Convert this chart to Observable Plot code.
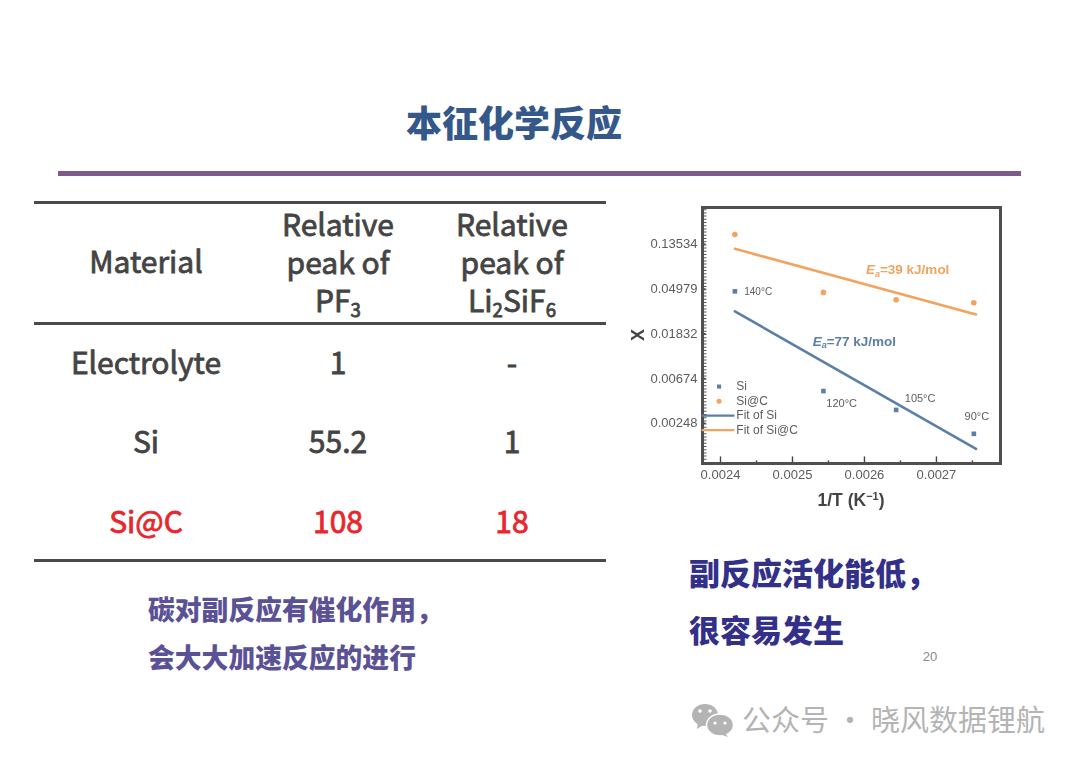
<!DOCTYPE html>
<html><head><meta charset="utf-8">
<script src="https://cdn.jsdelivr.net/npm/d3@7"></script>
<script src="https://cdn.jsdelivr.net/npm/@observablehq/plot@0.6"></script>
<style>
html,body{margin:0;padding:0;background:#fff;width:1080px;height:763px;overflow:hidden}
body{position:relative;font-family:"Noto Sans CJK SC","Noto Sans",sans-serif}
.t{position:absolute;white-space:nowrap;line-height:1}
.c{transform:translate(-50%,-50%)}
.rule{position:absolute}
sub{font-size:.62em;line-height:0;vertical-align:-.28em}
#chart{position:absolute;left:620px;top:190px;filter:blur(.35px)}
#wx{position:absolute;left:690px;top:700px}
</style></head><body>
<div id="slide"></div><div id="chart"></div>
<svg id="wx" width="46" height="38" viewBox="0 0 46 38">
<ellipse cx="15" cy="15" rx="13" ry="11" fill="#b4b4b4"/><path d="M8 22 L7 29 L15 24Z" fill="#b4b4b4"/>
<ellipse cx="30" cy="25" rx="13.5" ry="11" fill="#b4b4b4" stroke="#fff" stroke-width="1.5"/><path d="M35 33 L38 37 L29 34Z" fill="#b4b4b4"/>
<circle cx="10" cy="11" r="1.8" fill="#fff"/><circle cx="20" cy="11" r="1.8" fill="#fff"/><circle cx="25" cy="23" r="1.6" fill="#fff"/><circle cx="35" cy="23" r="1.6" fill="#fff"/>
</svg>
<script>
const xTicks=[0.0024,0.0025,0.0026,0.0027];
const xMinor=[0.00245,0.00255,0.00265,0.00275];
const yTicks=[0.13534,0.04979,0.01832,0.00674,0.00248];
const invT=[0.00242,0.002543,0.002644,0.002752];
const siX=[0.0472,0.00509,0.00334,0.00196];
const sicX=[0.168,0.0461,0.0391,0.0366];
const fitT=[0.00242,0.002755];
const fitSi=[0.0302,0.0014];
const fitSiC=[0.122,0.0282];
const tempLabels=[["140°C",0.002433,0.0466],["120°C",0.002547,0.00388],["105°C",0.002656,0.00428],["90°C",0.002739,0.00291]];
const blue="#5b7fa6",orange="#f2a35e",grey="#5c5c5c";
const sp=(a,b)=>a.map((v,i)=>({x:v,y:b[i]}));
const sans="Liberation Sans,Arial,sans-serif";
const xDom=[0.002375,0.002789],yDom=[0.00101,0.307];
const legendLineX=[0.002375,0.002418];
const legend=[["Si",0.00563],["Si@C",0.00405],["Fit of Si",0.00294],["Fit of Si@C",0.00213]];
const eaLabels=[["39",0.00266,0.0765,orange],["77",0.002586,0.01544,blue]];
const chart=Plot.plot({
  width:400,height:320,marginLeft:82,marginRight:20,marginTop:17,marginBottom:47,
  style:{background:"transparent",fontFamily:sans},
  x:{domain:xDom,axis:null},
  y:{type:"log",domain:yDom,axis:null},
  marks:[
    Plot.ruleX([xDom[0]],{y1:yDom[0],y2:yDom[1],dx:2.5,stroke:"#555",strokeWidth:3,strokeDasharray:"1,2.2"}),
    Plot.ruleX(xTicks,{y1:yDom[0],y2:0.00117,stroke:"#444",strokeWidth:1.4}),
    Plot.ruleX(xMinor,{y1:yDom[0],y2:0.00107,stroke:"#444",strokeWidth:1.4}),
    Plot.ruleY(yTicks,{x1:xDom[0],x2:0.00238,stroke:"#444",strokeWidth:1.4}),
    Plot.frame({stroke:"#4f4f4f",strokeWidth:3}),
    Plot.text(xTicks,{x:d=>d,frameAnchor:"bottom",dy:15,text:d=>d.toFixed(4),fontSize:13,fill:grey}),
    Plot.text(yTicks,{y:d=>d,frameAnchor:"left",dx:-5,textAnchor:"end",text:d=>d.toFixed(5),fontSize:13,fill:grey}),
    Plot.line(sp(fitT,fitSi),{x:"x",y:"y",stroke:blue,strokeWidth:2.6}),
    Plot.line(sp(fitT,fitSiC),{x:"x",y:"y",stroke:orange,strokeWidth:2.6}),
    Plot.dot(sp(invT,siX),{x:"x",y:"y",symbol:"square",r:2.6,fill:blue}),
    Plot.dot(sp(invT,sicX),{x:"x",y:"y",r:2.8,fill:orange}),
    Plot.text(tempLabels,{x:d=>d[1],y:d=>d[2],text:d=>d[0],fontSize:d=>d[0]=="140°C"?10:11,fill:grey,textAnchor:"start"}),
    Plot.dot([legend[0]],{x:()=>0.002398,y:d=>d[1],symbol:"square",r:2.3,fill:blue}),
    Plot.dot([legend[1]],{x:()=>0.002398,y:d=>d[1],r:2.5,fill:orange}),
    Plot.line(legendLineX.map(x=>({x,y:legend[2][1]})),{x:"x",y:"y",stroke:blue,strokeWidth:2.4}),
    Plot.line(legendLineX.map(x=>({x,y:legend[3][1]})),{x:"x",y:"y",stroke:orange,strokeWidth:2.4}),
    Plot.text(legend,{x:()=>0.002422,y:d=>d[1],text:d=>d[0],fontSize:12,fill:grey,textAnchor:"start"}),
    Plot.text(eaLabels,{x:d=>d[1],y:d=>d[2],text:d=>"Ea="+d[0]+" kJ/mol",fontSize:13.5,fontWeight:"bold",fill:d=>d[3]})
  ]
});
document.getElementById("chart").append(chart);
const s=d3.select(chart);
s.selectAll("text").filter(function(){return /^Ea=/.test(this.textContent)}).each(function(){
  const t=d3.select(this),rest=this.textContent.slice(2);
  t.text("");
  t.append("tspan").attr("font-style","italic").text("E");
  t.append("tspan").attr("font-style","italic").attr("font-size",9).attr("dy",2.5).text("a");
  t.append("tspan").attr("dy",-2.5).text(rest);
});
s.append("text").attr("transform","translate(18,145) rotate(-90)").attr("text-anchor","middle").attr("dy","0.35em").attr("font-size",18).attr("font-weight","bold").attr("fill","#444").attr("font-family",sans).text("X");
const xl=s.append("text").attr("x",231).attr("y",316).attr("text-anchor","middle").attr("font-size",17.5).attr("font-weight","bold").attr("fill","#444").attr("font-family",sans);
xl.append("tspan").text("1/T (K");xl.append("tspan").attr("font-size",11).attr("dy",-6).text("−1");xl.append("tspan").attr("dy",6).text(")");

const headers=["Material","Relative<br>peak of<br>PF<sub>3</sub>","Relative<br>peak of<br>Li<sub>2</sub>SiF<sub>6</sub>"];
const colX=[146,338,512];
const rows=[["Electrolyte","1","-"],["Si","55.2","1"],["Si@C","108","18"]];
const rowY=[361,440,520];
const S=document.getElementById("slide");
function add(txt,x,y,css,center=true){const d=document.createElement("div");d.className="t"+(center?" c":"");d.innerHTML=txt;d.style.cssText=`left:${x}px;top:${y}px;`+css;S.append(d);}
function rule(x,y,w,h,c){const d=document.createElement("div");d.className="rule";d.style.cssText=`left:${x}px;top:${y}px;width:${w}px;height:${h}px;background:${c}`;S.append(d);}
add("本征化学反应",514,121,"font-size:36px;font-weight:900;color:#34588a");
rule(58,171,963,5,"#7d5a8a");
rule(34,201,572,3,"#4a4a4a");rule(34,322,572,3,"#4a4a4a");rule(34,559,572,3,"#4a4a4a");
const body="font-size:30px;font-weight:400;-webkit-text-stroke:.8px currentColor;";
headers.forEach((h,i)=>add(h,colX[i],i?261:260,body+"color:#444;text-align:center;line-height:38px"));
rows.forEach((r,j)=>r.forEach((c,i)=>add(c,colX[i],rowY[j],body+`color:${j==2?"#e8262c":"#444"}`)));
const st="font-size:26.8px;font-weight:900;color:#5b5295;transform:translateY(-50%);";
add("碳对副反应有催化作用，",148,609,st,false);add("会大大加速反应的进行",148,657,st,false);
const big="font-size:31px;font-weight:900;color:#33308a;transform:translateY(-50%);";
add("副反应活化能低，",689,571,big,false);
add("很容易发生",689,628,big,false);
add("20",930,656,"font-size:13px;color:#8a8a8a;font-family:'Liberation Sans'");
add("公众号 · 晓风数据锂航",742,718,"font-size:29px;color:#b4b4b4;font-weight:400;transform:translateY(-50%)",false);
</script>
</body></html>
